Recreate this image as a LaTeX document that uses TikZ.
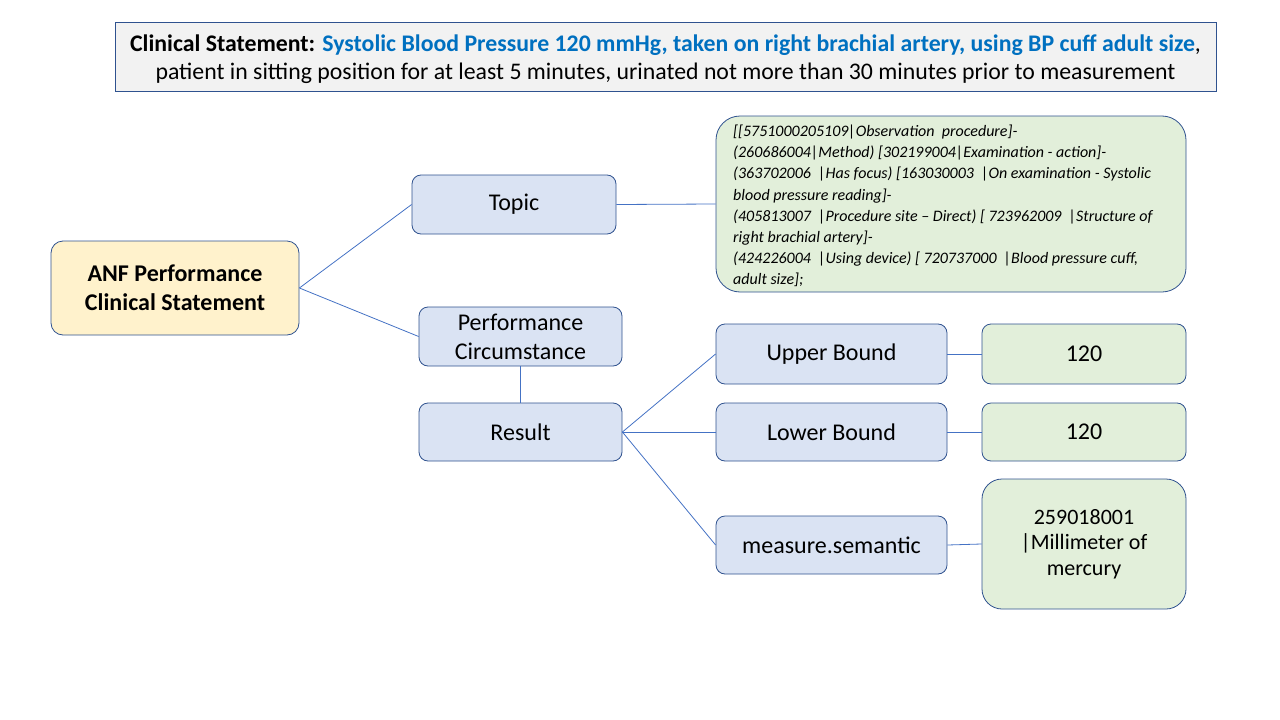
\documentclass[tikz,border=0pt]{standalone}
\usepackage{fontspec}
\setmainfont{Carlito}
\definecolor{edgeblue}{HTML}{4472C4}
\definecolor{boxborder}{HTML}{2F528F}
\definecolor{bluefill}{HTML}{DAE3F3}
\definecolor{greenfill}{HTML}{E2EFDA}
\definecolor{yellowfill}{HTML}{FFF2CC}
\definecolor{headfill}{HTML}{F2F2F2}
\definecolor{titleblue}{HTML}{0070C0}
\tikzset{
  box/.style={draw=boxborder, line width=0.8pt, rounded corners=9pt, inner sep=0pt, align=center, font=\fontsize{24}{29}\selectfont},
  bluebox/.style={box, fill=bluefill},
  greenbox/.style={box, fill=greenfill},
  link/.style={draw=edgeblue, line width=0.8pt}
}
\begin{document}
\begin{tikzpicture}[x=1pt,y=-1pt]
\useasboundingbox (0,0) rectangle (1280,720);
% header
\node[draw=boxborder, line width=0.8pt, fill=headfill, minimum width=1101pt, minimum height=69pt, inner sep=0pt, align=center, font=\fontsize{23.8}{28}\selectfont] (head) at (665.5,56.5) {};
\node[inner sep=0pt, align=center, font=\fontsize{23.8}{28}\selectfont] (headtext) at (665.5,59)
  {\textbf{Clinical Statement:} \textcolor{titleblue}{\textbf{Systolic Blood Pressure 120 mmHg, taken on right brachial artery, using BP cuff adult size}},\\
   patient in sitting position for at least 5 minutes, urinated not more than 30 minutes prior to measurement};
% nodes
\node[box, fill=yellowfill, minimum width=248pt, minimum height=94pt, rounded corners=12pt, font=\bfseries\fontsize{24}{29}\selectfont] (anf) at (175,288) {ANF Performance\\Clinical Statement};
\node[bluebox, minimum width=204pt, minimum height=59pt] (topic) at (514,204.5) {Topic};
\node[bluebox, minimum width=203pt, minimum height=59pt] (perf) at (520.5,336.5) {Performance\\Circumstance};
\node[bluebox, minimum width=203pt, minimum height=58pt] (result) at (520.5,432) {Result};
\node[greenbox, minimum width=470pt, minimum height=176pt, rounded corners=24pt] (code) at (951,204) {};
\node[anchor=north west, align=left, inner sep=0pt, font=\itshape\fontsize{16}{21.1}\selectfont] (codetext) at (733,125)
  {[[5751000205109|Observation\ \ procedure]-\\
   (260686004|Method) [302199004|Examination - action]-\\
   (363702006\ \ |Has focus) [163030003\ \ |On examination - Systolic\\
   blood pressure reading]-\\
   (405813007\ \ |Procedure site -- Direct) [ 723962009\ \ |Structure of\\
   right brachial artery]-\\
   (424226004\ \ |Using device) [ 720737000\ \ |Blood pressure cuff,\\
   adult size];};
\node[bluebox, minimum width=231pt, minimum height=60pt] (upper) at (831.5,354) {Upper Bound};
\node[bluebox, minimum width=231pt, minimum height=58pt] (lower) at (831.5,432) {Lower Bound};
\node[bluebox, minimum width=231pt, minimum height=58pt] (meas) at (831.5,545) {measure.semantic};
\node[greenbox, minimum width=204pt, minimum height=60pt] (uval) at (1084,354) {120};
\node[greenbox, minimum width=204pt, minimum height=58pt] (lval) at (1084,432) {120};
\node[greenbox, minimum width=204pt, minimum height=130pt, rounded corners=20pt, font=\fontsize{22}{25.5}\selectfont] (mval) at (1084,544) {259018001\\|Millimeter of\\mercury};
% connectors
\draw[link] (anf.east) -- (topic.west);
\draw[link] (anf.east) -- (perf.west);
\draw[link] (topic.east) -- (code.west);
\draw[link] (perf.south) -- (result.north);
\draw[link] (result.east) -- (upper.west);
\draw[link] (result.east) -- (lower.west);
\draw[link] (result.east) -- (meas.west);
\draw[link] (upper.east) -- (uval.west);
\draw[link] (lower.east) -- (lval.west);
\draw[link] (meas.east) -- (mval.west);
\end{tikzpicture}
\end{document}
